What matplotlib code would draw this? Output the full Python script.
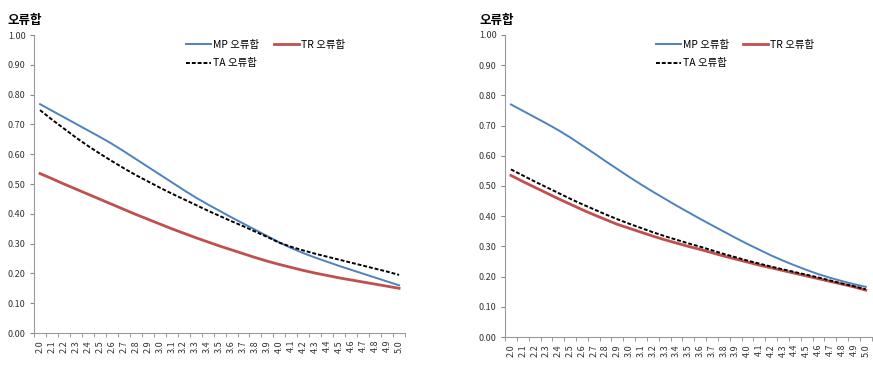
import matplotlib.pyplot as plt
import numpy as np

plt.rcParams['font.family'] = ['Noto Sans CJK KR', 'DejaVu Sans']

# x categories 2.0 ~ 5.0
cats = ["%.1f" % (2.0 + i / 10) for i in range(31)]

# left chart
mp_left = [0.768, 0.746, 0.724, 0.702, 0.680, 0.658, 0.635, 0.610, 0.584, 0.558,
           0.532, 0.506, 0.480, 0.455, 0.432, 0.410, 0.388, 0.367, 0.346, 0.325,
           0.304, 0.285, 0.268, 0.253, 0.239, 0.225, 0.212, 0.199, 0.186, 0.173, 0.160]
tr_left = [0.535, 0.518, 0.500, 0.483, 0.466, 0.449, 0.432, 0.415, 0.398, 0.382,
           0.366, 0.350, 0.335, 0.320, 0.306, 0.292, 0.279, 0.266, 0.253, 0.241,
           0.230, 0.220, 0.210, 0.201, 0.193, 0.185, 0.178, 0.171, 0.164, 0.157, 0.150]
ta_left = [0.748, 0.716, 0.686, 0.656, 0.628, 0.602, 0.577, 0.553, 0.530, 0.509,
           0.488, 0.468, 0.449, 0.430, 0.411, 0.393, 0.375, 0.358, 0.340, 0.322,
           0.303, 0.289, 0.277, 0.266, 0.256, 0.246, 0.236, 0.226, 0.216, 0.206, 0.195]

# right chart
mp_right = [0.770, 0.749, 0.728, 0.707, 0.685, 0.661, 0.635, 0.609, 0.582, 0.556,
            0.530, 0.505, 0.481, 0.458, 0.435, 0.413, 0.391, 0.370, 0.349, 0.328,
            0.308, 0.289, 0.270, 0.253, 0.237, 0.222, 0.208, 0.196, 0.185, 0.175, 0.166]
tr_right = [0.535, 0.515, 0.496, 0.477, 0.458, 0.440, 0.422, 0.405, 0.389, 0.373,
            0.360, 0.347, 0.334, 0.322, 0.311, 0.300, 0.290, 0.279, 0.268, 0.258,
            0.248, 0.238, 0.229, 0.220, 0.211, 0.202, 0.193, 0.184, 0.175, 0.166, 0.155]
ta_right = [0.555, 0.535, 0.515, 0.496, 0.477, 0.458, 0.440, 0.423, 0.406, 0.390,
            0.375, 0.361, 0.347, 0.334, 0.322, 0.310, 0.299, 0.287, 0.275, 0.264,
            0.253, 0.243, 0.233, 0.224, 0.215, 0.206, 0.197, 0.187, 0.177, 0.168, 0.158]

yticks = [0.0, 0.1, 0.2, 0.3, 0.4, 0.5, 0.6, 0.7, 0.8, 0.9, 1.0]

fig = plt.figure(figsize=(8.73, 3.67), dpi=100)
ax1 = fig.add_axes([0.039, 0.0926, 0.425, 0.812])
ax2 = fig.add_axes([0.5785, 0.0817, 0.420, 0.823])


def draw(ax, mp, tr, ta, title_x):
    x = np.arange(len(cats))
    l1, = ax.plot(x, mp, color='#4F81BD', lw=1.4, label='MP 오류합')
    l2, = ax.plot(x, tr, color='#C0504D', lw=2.0, label='TR 오류합')
    l3, = ax.plot(x, ta, color='black', lw=1.4, ls=(0, (2, 1)), label='TA 오류합')
    ax.set_xlim(-0.5, len(cats) - 0.5)
    ax.set_ylim(0, 1)
    ax.set_yticks(yticks)
    ax.set_yticklabels(["%.2f" % v for v in yticks], fontsize=6.5, color='#333333')
    ax.set_xticks(x)
    ax.set_xticklabels(cats, rotation=90, fontsize=6.5, color='#333333')
    ax.set_xticks(np.arange(-0.5, len(cats), 1), minor=True)
    ax.tick_params(axis='x', which='major', length=0, pad=5)
    ax.tick_params(axis='x', which='minor', length=3, color='#888888')
    ax.tick_params(axis='y', length=3, color='#888888', pad=3)
    for s in ['top', 'right']:
        ax.spines[s].set_visible(False)
    for s in ['left', 'bottom']:
        ax.spines[s].set_color('#999999')
        ax.spines[s].set_linewidth(0.8)
    # row order MP, TR / TA with two columns
    ax.legend([l1, l3, l2], ['MP 오류합', 'TA 오류합', 'TR 오류합'],
              ncol=2, frameon=False, fontsize=7.5, loc='upper left',
              bbox_to_anchor=(0.385, 1.015), handlelength=2.4,
              handletextpad=0.2, columnspacing=1.4, labelspacing=0.8)
    fig.text(title_x, 0.945, '오류합', fontsize=9, fontweight='bold', va='center')


draw(ax1, mp_left, tr_left, ta_left, 0.009)
draw(ax2, mp_right, tr_right, ta_right, 0.549)

fig.savefig('out.png', dpi=100, facecolor='white')
